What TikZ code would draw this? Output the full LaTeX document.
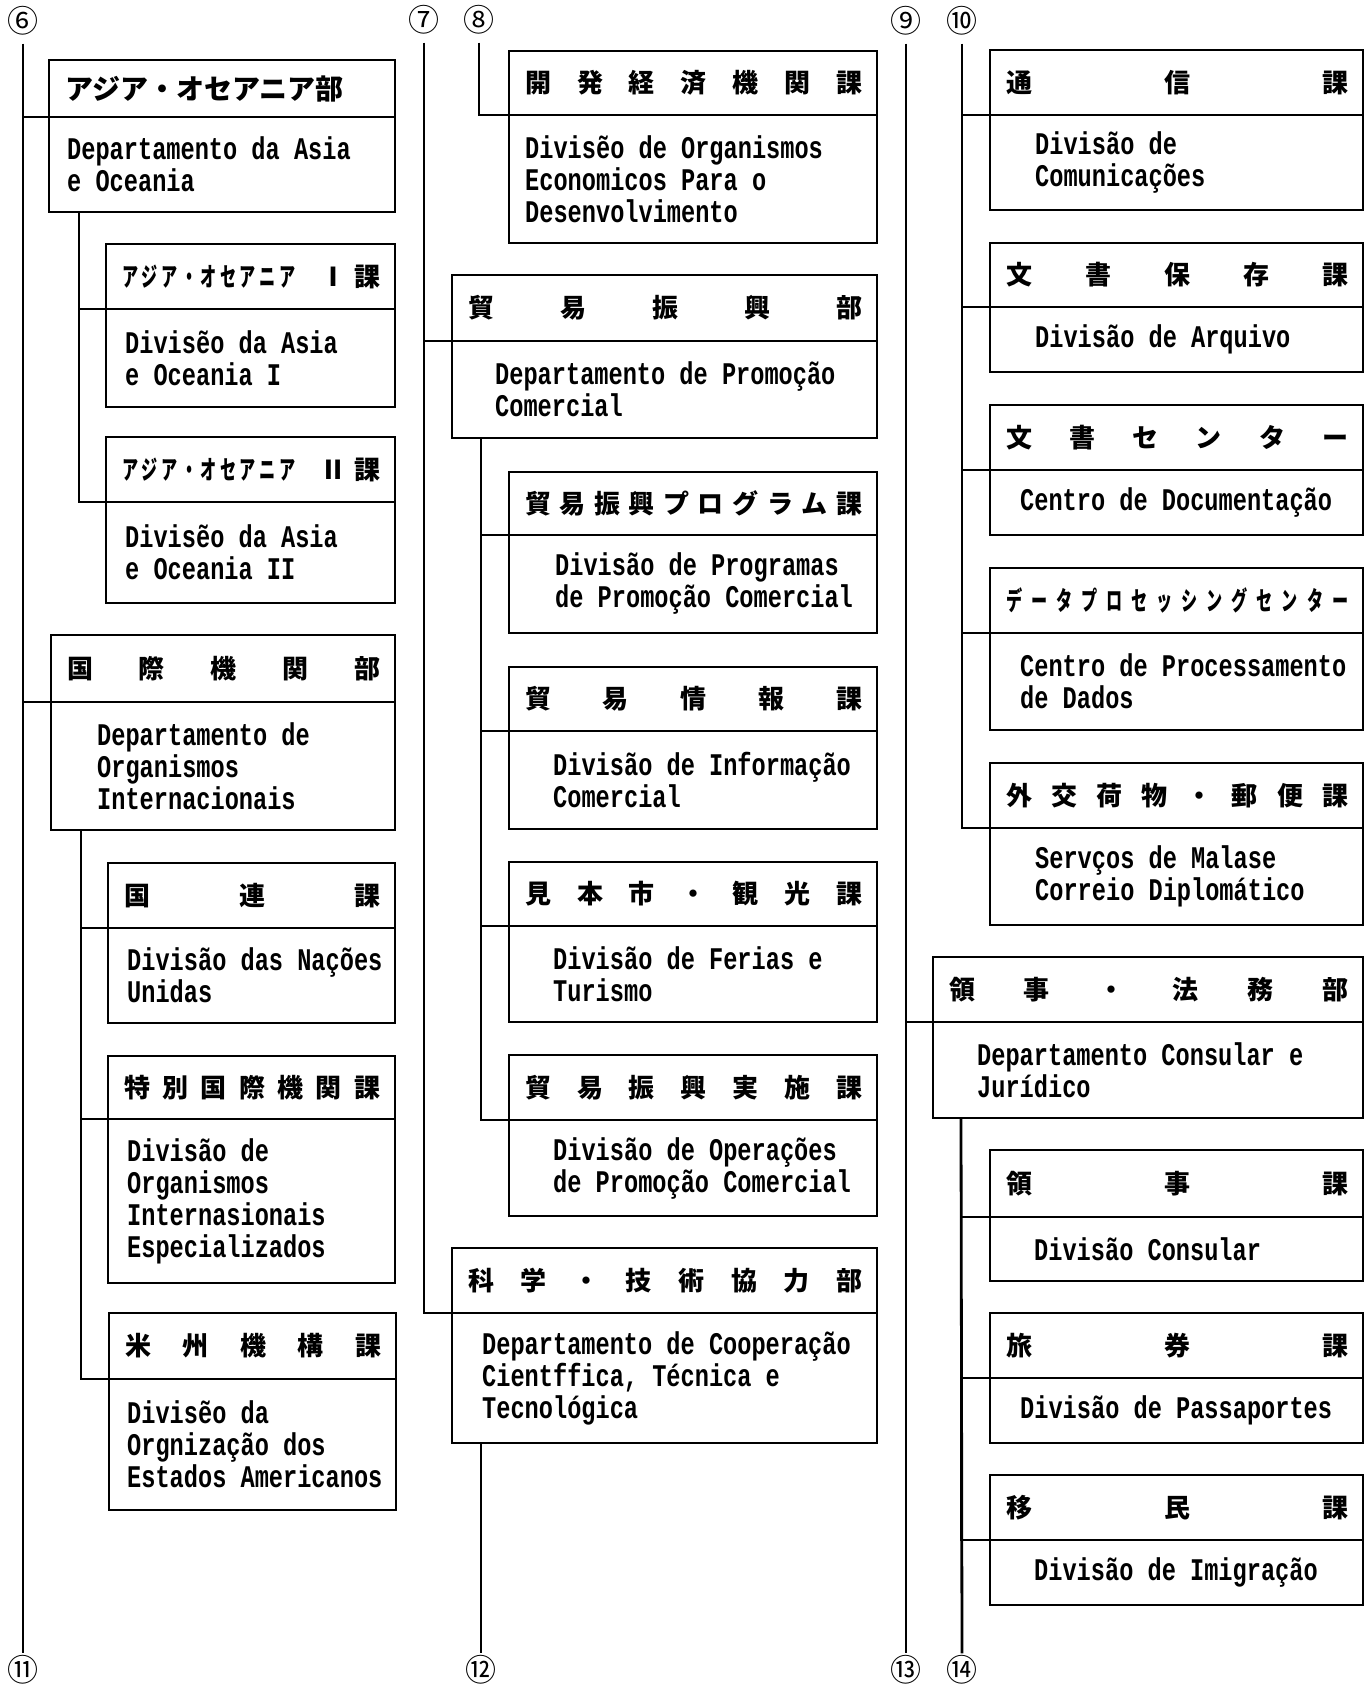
\documentclass[tikz,border=0pt]{standalone}
\usepackage{fontspec}
\usepackage{graphicx}
\newfontfamily\cjk{Noto Sans CJK JP}
\newfontfamily\lat{Liberation Mono}[FakeStretch=0.75]
\newcommand\hdrfont{\cjk\bfseries\fontsize{26}{26}\selectfont}
\newcommand\bodyfont{\lat\bfseries\fontsize{31.5}{32}\selectfont}
\newcommand\numfont{\cjk\fontsize{31}{31}\selectfont}
\newcommand\hw[1]{\scalebox{0.62}[1]{#1}}
\newcommand\orgbox[9]{%
  \node[orgframe, minimum width={(#5-#2)*1pt}, minimum height={(#6-#3)*1pt}, anchor=north west] (#1) at (#2,#3) {};
  \coordinate (#1-d) at (#2,#4);
  \draw[rule] (#1-d) -- (#1-d -| #1.east);
  \node[hdr, anchor=west] (#1-h) at ({#2+16},{(#3+#4)/2}) {\hbox to \dimexpr#5pt-#2pt-31pt\relax{#7}};
  \node[bodytext, anchor=west] (#1-b) at (#8,{(#4+#6)/2}) {#9};
}
\begin{document}
\begin{tikzpicture}[x=1pt,y=-1pt,
  orgframe/.style={draw, line width=2.8pt, inner sep=0pt, outer sep=0pt},
  rule/.style={line width=2.8pt},
  hdr/.style={font=\hdrfont, inner sep=0pt},
  bodytext/.style={font=\bodyfont, align=left, inner sep=0pt},
  num/.style={font=\numfont, inner sep=0pt},
  trunk/.style={line width=2.8pt}]
\fill[white] (0,0) rectangle (1371,1689);
\useasboundingbox (0,0) rectangle (1371,1689);

% circled numbers
\node[num] (n6) at (23,21) {⑥};
\node[num] (n7) at (424,20) {⑦};
\node[num] (n8) at (479,20) {⑧};
\node[num] (n9) at (906,21) {⑨};
\node[num] (n10) at (962,21) {⑩};
\node[num] (n11) at (23,1670) {⑪};
\node[num] (n12) at (481,1670) {⑫};
\node[num] (n13) at (906,1670) {⑬};
\node[num] (n14) at (962,1670) {⑭};

% column 1
\orgbox{A}{49}{60}{117}{395}{212}{{\cjk\bfseries\fontsize{28}{28}\selectfont アジア・オセアニア部}\hfill}{67}{Departamento da Asia\\e Oceania}
\orgbox{A1}{106}{244}{309}{395}{407}{\hbox to 173pt{\hw{ア}\hfill \hw{ジ}\hfill \hw{ア}\hfill \hw{・}\hfill \hw{オ}\hfill \hw{セ}\hfill \hw{ア}\hfill \hw{ニ}\hfill \hw{ア}}\hfill Ⅰ\hspace{8pt}課}{125}{Divisẽo da Asia\\e Oceania I}
\orgbox{A2}{106}{437}{502}{395}{603}{\hbox to 173pt{\hw{ア}\hfill \hw{ジ}\hfill \hw{ア}\hfill \hw{・}\hfill \hw{オ}\hfill \hw{セ}\hfill \hw{ア}\hfill \hw{ニ}\hfill \hw{ア}}\hfill Ⅱ\hspace{8pt}課}{125}{Divisẽo da Asia\\e Oceania II}
\orgbox{B}{51}{635}{702}{395}{830}{国\hfill 際\hfill 機\hfill 関\hfill 部}{97}{Departamento de\\Organismos\\Internacionais}
\orgbox{B1}{108}{863}{928}{395}{1023}{国\hfill 連\hfill 課}{127}{Divisão das Nações\\Unidas}
\orgbox{B2}{108}{1056}{1119}{395}{1283}{特\hfill 別\hfill 国\hfill 際\hfill 機\hfill 関\hfill 課}{127}{Divisão de\\Organismos\\Internasionais\\Especializados}
\orgbox{B3}{109}{1313}{1379}{396}{1510}{米\hfill 州\hfill 機\hfill 構\hfill 課}{127}{Divisẽo da\\Orgnização dos\\Estados Americanos}

% column 2
\orgbox{C0}{509}{51}{115}{877}{243}{開\hfill 発\hfill 経\hfill 済\hfill 機\hfill 関\hfill 課}{525}{Divisẽo de Organismos\\Economicos Para o\\Desenvolvimento}
\orgbox{C}{452}{275}{341}{877}{438}{貿\hfill 易\hfill 振\hfill 興\hfill 部}{495}{Departamento de Promoção\\Comercial}
\orgbox{C1}{509}{472}{535}{877}{633}{貿\hfill 易\hfill 振\hfill 興\hfill プ\hfill ロ\hfill グ\hfill ラ\hfill ム\hfill 課}{555}{Divisão de Programas\\de Promoção Comercial}
\orgbox{C2}{509}{667}{731}{877}{829}{貿\hfill 易\hfill 情\hfill 報\hfill 課}{553}{Divisão de Informação\\Comercial}
\orgbox{C3}{509}{862}{926}{877}{1022}{見\hfill 本\hfill 市\hfill ・\hfill 観\hfill 光\hfill 課}{553}{Divisão de Ferias e\\Turismo}
\orgbox{C4}{509}{1055}{1120}{877}{1216}{貿\hfill 易\hfill 振\hfill 興\hfill 実\hfill 施\hfill 課}{553}{Divisão de Operações\\de Promoção Comercial}
\orgbox{D}{452}{1248}{1313}{877}{1443}{科\hfill 学\hfill ・\hfill 技\hfill 術\hfill 協\hfill 力\hfill 部}{482}{Departamento de Cooperação\\Cientffica, Técnica e\\Tecnológica}

% column 3
\orgbox{E1}{990}{50}{115}{1363}{210}{通\hfill 信\hfill 課}{1035}{Divisão de\\Comunicações}
\orgbox{E2}{990}{243}{307}{1363}{372}{文\hfill 書\hfill 保\hfill 存\hfill 課}{1035}{Divisão de Arquivo}
\orgbox{E3}{990}{405}{470}{1363}{535}{文\hfill 書\hfill セ\hfill ン\hfill タ\hfill ー}{1020}{Centro de Documentação}
\orgbox{E4}{990}{568}{633}{1363}{730}{\hw{デ}\hfill \hw{ー}\hfill \hw{タ}\hfill \hw{プ}\hfill \hw{ロ}\hfill \hw{セ}\hfill \hw{ッ}\hfill \hw{シ}\hfill \hw{ン}\hfill \hw{グ}\hfill \hw{セ}\hfill \hw{ン}\hfill \hw{タ}\hfill \hw{ー}}{1020}{Centro de Processamento\\de Dados}
\orgbox{E5}{990}{763}{828}{1363}{925}{外\hfill 交\hfill 荷\hfill 物\hfill ・\hfill 郵\hfill 便\hfill 課}{1035}{Servços de Malase\\Correio Diplomático}
\orgbox{F}{933}{957}{1022}{1363}{1118}{領\hfill 事\hfill ・\hfill 法\hfill 務\hfill 部}{977}{Departamento Consular e\\Jurídico}
\orgbox{F1}{990}{1150}{1217}{1363}{1281}{領\hfill 事\hfill 課}{1034}{Divisão Consular}
\orgbox{F2}{990}{1313}{1378}{1363}{1443}{旅\hfill 券\hfill 課}{1020}{Divisão de Passaportes}
\orgbox{F3}{990}{1475}{1540}{1363}{1605}{移\hfill 民\hfill 課}{1034}{Divisão de Imigração}

% trunk ⑥ -> ⑪
\draw[trunk] ([yshift=-8pt]n6.south) -- ([yshift=2pt]n6.south |- n11.north);
\draw[trunk] (n6.south |- A-d) -- (A-d);
\draw[trunk] (n6.south |- B-d) -- (B-d);
\draw[trunk] ([xshift=30pt]A.south west) |- (A1-d);
\draw[trunk] ([xshift=30pt]A.south west) |- (A2-d);
\draw[trunk] ([xshift=30pt]B.south west) |- (B1-d);
\draw[trunk] ([xshift=30pt]B.south west) |- (B2-d);
\draw[trunk] ([xshift=30pt]B.south west) |- (B3-d);

% trunk ⑦, ⑧, ⑫
\draw[trunk] ([yshift=-8pt]n7.south) |- (D-d);
\draw[trunk] (n7.south |- C-d) -- (C-d);
\draw[trunk] ([yshift=-8pt]n8.south) |- (C0-d);
\draw[trunk] ([xshift=29pt]C.south west) |- (C1-d);
\draw[trunk] ([xshift=29pt]C.south west) |- (C2-d);
\draw[trunk] ([xshift=29pt]C.south west) |- (C3-d);
\draw[trunk] ([xshift=29pt]C.south west) |- (C4-d);
\draw[trunk] ([xshift=29pt]D.south west) -- ([yshift=2pt]n12.north);

% trunk ⑨ -> ⑬, ⑩, ⑭
\draw[trunk] ([yshift=-8pt]n9.south) -- ([yshift=2pt]n9.south |- n13.north);
\draw[trunk] (n9.south |- F-d) -- (F-d);
\draw[trunk] ([yshift=-8pt]n10.south) |- (E5-d);
\draw[trunk] (n10.south |- E1-d) -- (E1-d);
\draw[trunk] (n10.south |- E2-d) -- (E2-d);
\draw[trunk] (n10.south |- E3-d) -- (E3-d);
\draw[trunk] (n10.south |- E4-d) -- (E4-d);
\draw[trunk] ([xshift=28pt]F.south west) -- ([yshift=2pt]n14.north);
\draw[trunk] ([xshift=28pt]F.south west) |- (F1-d);
\draw[trunk] ([xshift=28pt]F.south west) |- (F2-d);
\draw[trunk] ([xshift=28pt]F.south west) |- (F3-d);
\end{tikzpicture}
\end{document}
